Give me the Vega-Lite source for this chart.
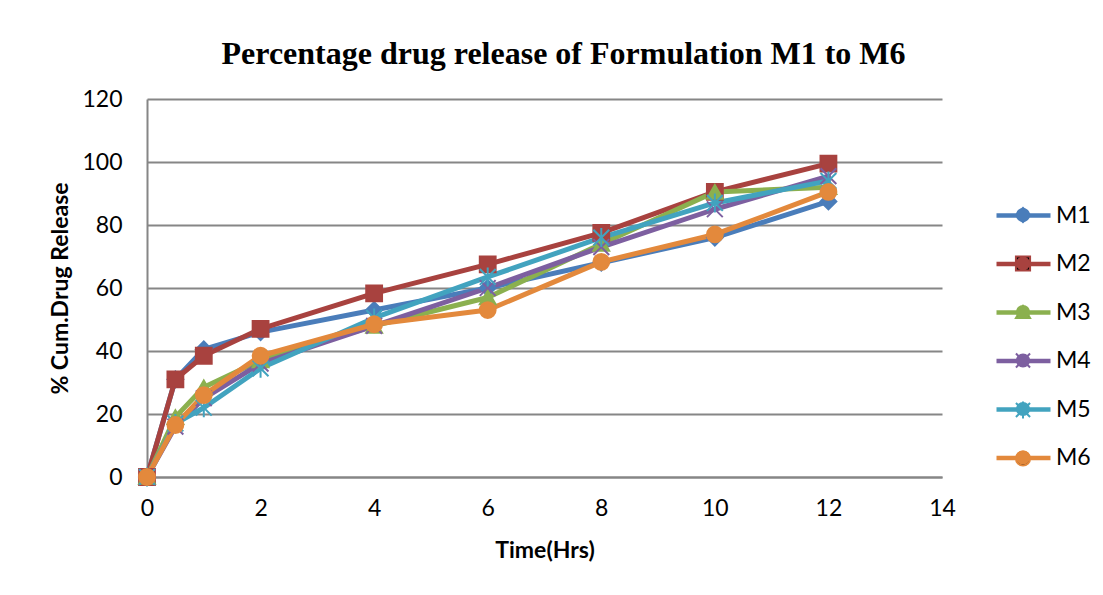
{
  "$schema": "https://vega.github.io/schema/vega-lite/v6.json",
  "width": 795,
  "height": 378,
  "autosize": {"type": "none"},
  "padding": {"left": 147, "top": 99, "right": 161, "bottom": 118},
  "background": "white",
  "title": {
    "text": "Percentage drug release of Formulation M1 to M6",
    "font": "Liberation Serif",
    "fontSize": 32,
    "fontWeight": "bold",
    "color": "black",
    "anchor": "middle",
    "dx": 19,
    "baseline": "alphabetic",
    "offset": -8
  },
  "config": {
    "view": {"stroke": null},
    "font": "Lato",
    "axis": {
      "labelFont": "Lato",
      "labelFontSize": 23,
      "labelColor": "black",
      "titleFont": "Lato",
      "titleFontSize": 23,
      "titleFontWeight": "bold",
      "titleColor": "black",
      "domainColor": "#868686",
      "domainWidth": 2,
      "gridColor": "#868686",
      "gridWidth": 2,
      "ticks": false
    },
    "legend": {
      "labelFont": "Lato",
      "labelFontSize": 23,
      "labelColor": "black",
      "padding": 0
    }
  },
  "data": {
    "values": [
      {"series": "M1", "time": 0, "release": 0},
      {"series": "M1", "time": 0.5, "release": 31},
      {"series": "M1", "time": 1, "release": 40.5},
      {"series": "M1", "time": 2, "release": 46},
      {"series": "M1", "time": 4, "release": 53},
      {"series": "M1", "time": 6, "release": 60},
      {"series": "M1", "time": 8, "release": 68},
      {"series": "M1", "time": 10, "release": 76},
      {"series": "M1", "time": 12, "release": 87.5},
      {"series": "M2", "time": 0, "release": 0},
      {"series": "M2", "time": 0.5, "release": 31},
      {"series": "M2", "time": 1, "release": 38.5},
      {"series": "M2", "time": 2, "release": 47},
      {"series": "M2", "time": 4, "release": 58.3},
      {"series": "M2", "time": 6, "release": 67.5},
      {"series": "M2", "time": 8, "release": 77.5},
      {"series": "M2", "time": 10, "release": 90.5},
      {"series": "M2", "time": 12, "release": 99.5},
      {"series": "M3", "time": 0, "release": 0},
      {"series": "M3", "time": 0.5, "release": 19},
      {"series": "M3", "time": 1, "release": 28.5},
      {"series": "M3", "time": 2, "release": 37},
      {"series": "M3", "time": 4, "release": 48},
      {"series": "M3", "time": 6, "release": 57},
      {"series": "M3", "time": 8, "release": 74},
      {"series": "M3", "time": 10, "release": 90.5},
      {"series": "M3", "time": 12, "release": 92},
      {"series": "M4", "time": 0, "release": 0},
      {"series": "M4", "time": 0.5, "release": 16},
      {"series": "M4", "time": 1, "release": 25},
      {"series": "M4", "time": 2, "release": 36},
      {"series": "M4", "time": 4, "release": 48},
      {"series": "M4", "time": 6, "release": 60},
      {"series": "M4", "time": 8, "release": 73},
      {"series": "M4", "time": 10, "release": 85},
      {"series": "M4", "time": 12, "release": 95.5},
      {"series": "M5", "time": 0, "release": 0},
      {"series": "M5", "time": 0.5, "release": 17},
      {"series": "M5", "time": 1, "release": 22},
      {"series": "M5", "time": 2, "release": 34.5},
      {"series": "M5", "time": 4, "release": 50.5},
      {"series": "M5", "time": 6, "release": 63.5},
      {"series": "M5", "time": 8, "release": 76},
      {"series": "M5", "time": 10, "release": 87},
      {"series": "M5", "time": 12, "release": 94},
      {"series": "M6", "time": 0, "release": 0},
      {"series": "M6", "time": 0.5, "release": 16.5},
      {"series": "M6", "time": 1, "release": 26},
      {"series": "M6", "time": 2, "release": 38.5},
      {"series": "M6", "time": 4, "release": 48.5},
      {"series": "M6", "time": 6, "release": 53},
      {"series": "M6", "time": 8, "release": 68.3},
      {"series": "M6", "time": 10, "release": 77},
      {"series": "M6", "time": 12, "release": 90.5}
    ]
  },
  "encoding": {
    "x": {
      "field": "time",
      "type": "quantitative",
      "scale": {"domain": [0, 14], "nice": false},
      "axis": {
        "title": "Time(Hrs)",
        "values": [0, 2, 4, 6, 8, 10, 12, 14],
        "grid": false,
        "labelPadding": 20,
        "titlePadding": 19,
        "labelFlush": false
      }
    },
    "y": {
      "field": "release",
      "type": "quantitative",
      "scale": {"domain": [0, 120], "nice": false},
      "axis": {
        "title": "% Cum.Drug Release",
        "values": [0, 20, 40, 60, 80, 100, 120],
        "labelPadding": 25,
        "titlePadding": 9
      }
    }
  },
  "layer": [
    {
      "mark": {"type": "line", "strokeWidth": 5, "strokeJoin": "round", "strokeCap": "round"},
      "encoding": {
        "color": {
          "field": "series",
          "type": "nominal",
          "scale": {
            "domain": ["M1", "M2", "M3", "M4", "M5", "M6"],
            "range": ["#4A7DBA", "#A8423F", "#8BB04F", "#7D5FA0", "#42A3BF", "#E3893C"]
          },
          "legend": {
            "title": null,
            "orient": "none",
            "legendX": 864.5,
            "legendY": 104.5,
            "symbolType": "M-2.842,0L2.842,0",
            "symbolSize": 361,
            "symbolStrokeWidth": 4.5,
            "labelOffset": 20.5,
            "rowPadding": 24.5
          }
        }
      }
    },
    {
      "mark": {"type": "point", "filled": true, "opacity": 1, "size": 250, "strokeWidth": 2},
      "encoding": {
        "color": {
          "field": "series",
          "type": "nominal",
          "scale": {
            "domain": ["M1", "M2", "M3", "M4", "M5", "M6"],
            "range": ["#4A7DBA", "#A8423F", "#8BB04F", "#7D5FA0", "#42A3BF", "#E3893C"]
          },
          "legend": {
            "title": null,
            "orient": "none",
            "legendX": 864.5,
            "legendY": 104.5,
            "symbolSize": 200,
            "symbolStrokeWidth": 2,
            "labelOffset": 20.5,
            "labelColor": "transparent",
            "rowPadding": 24.5
          }
        },
        "stroke": {
          "field": "series",
          "type": "nominal",
          "scale": {
            "domain": ["M1", "M2", "M3", "M4", "M5", "M6"],
            "range": ["#4A7DBA", "#A8423F", "#8BB04F", "#7D5FA0", "#42A3BF", "#E3893C"]
          },
          "legend": null
        },
        "shape": {
          "field": "series",
          "type": "nominal",
          "scale": {
            "domain": ["M1", "M2", "M3", "M4", "M5", "M6"],
            "range": ["diamond", "square", "triangle-up", "M-1,-1L1,1M-1,1L1,-1", "M-1,-1L1,1M-1,1L1,-1M0,-1.2L0,1.2", "circle"]
          },
          "legend": {
            "title": null,
            "orient": "none",
            "legendX": 864.5,
            "legendY": 104.5,
            "symbolSize": 200,
            "symbolStrokeWidth": 2,
            "labelOffset": 20.5,
            "labelColor": "transparent",
            "rowPadding": 24.5
          }
        }
      }
    }
  ],
  "resolve": {"legend": {"color": "independent"}}
}
